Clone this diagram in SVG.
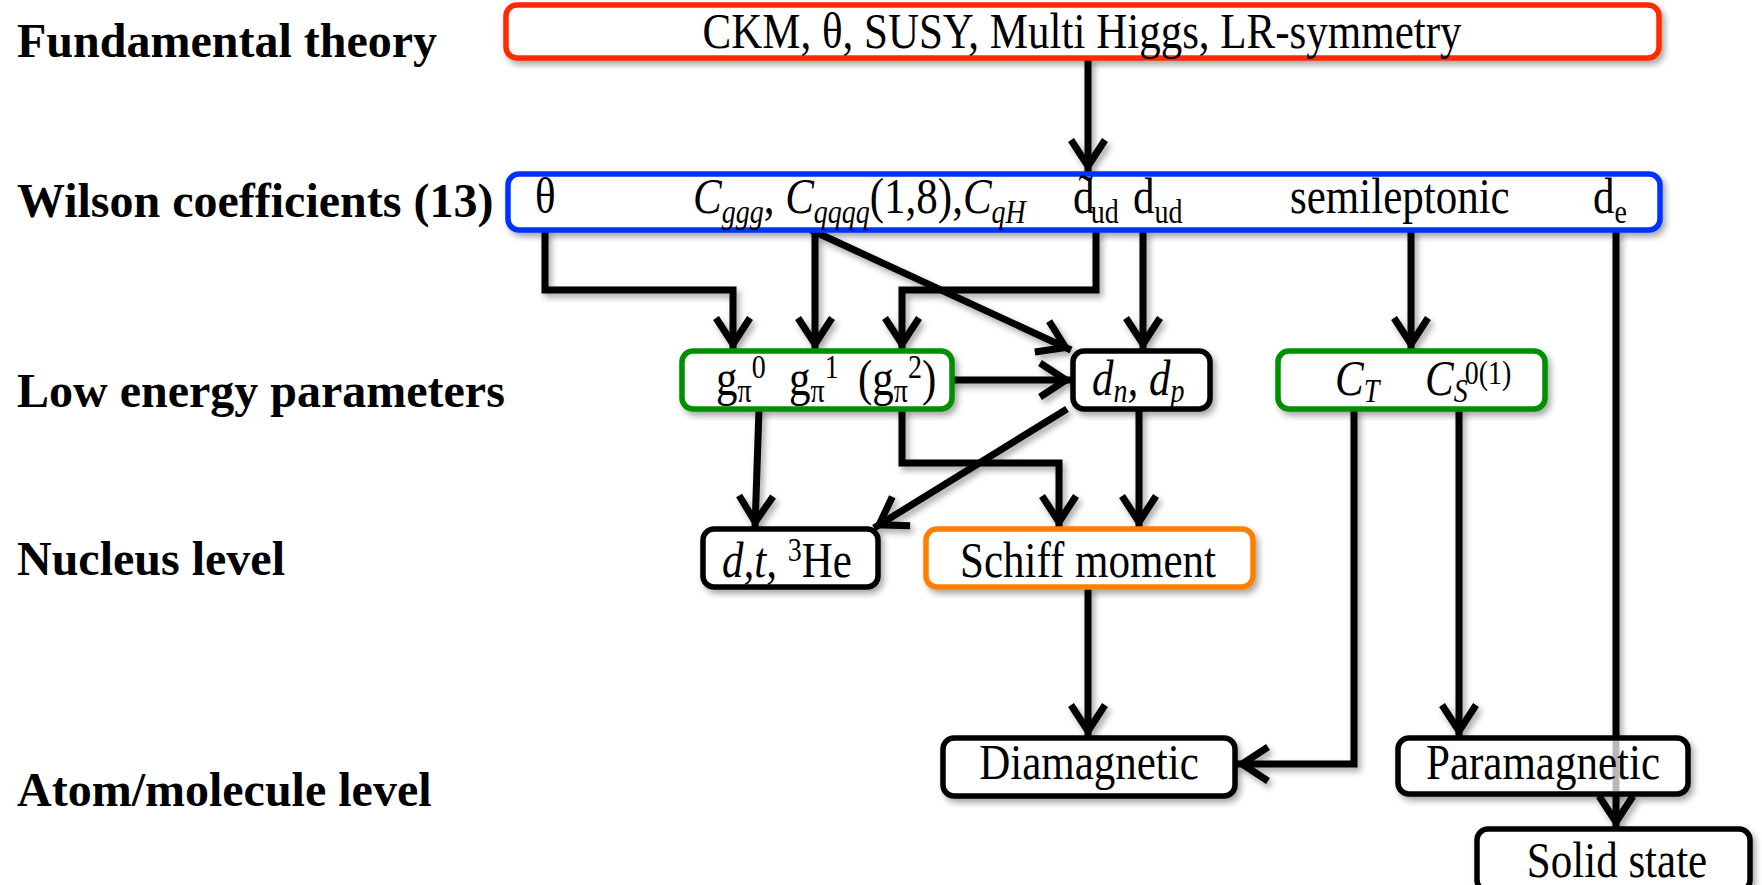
<svg xmlns="http://www.w3.org/2000/svg" width="1762" height="885" viewBox="0 0 1762 885">
<defs>
<filter id="sh" x="-10%" y="-10%" width="120%" height="130%">
<feDropShadow dx="3" dy="4" stdDeviation="3" flood-color="#000" flood-opacity="0.35"/>
</filter>
<marker id="arr" markerUnits="userSpaceOnUse" viewBox="0 0 44 40" markerWidth="44" markerHeight="40" refX="38" refY="20" orient="auto" overflow="visible">
<path d="M6,3 L32,20 L6,37" fill="none" stroke="#000" stroke-width="7" stroke-linejoin="miter"/>
</marker>
</defs>
<style>
.lbl{font-family:"Liberation Serif","Times New Roman",serif;font-weight:bold;font-size:48px;fill:#000}
.t{font-family:"Liberation Serif","Times New Roman",serif;font-size:43px;fill:#000}
.i{font-style:italic}
.s{font-size:28px}
.box{fill:#fff;stroke-width:5.5}
.k{stroke:#000}
.con path{fill:none;stroke:#000;stroke-width:7;marker-end:url(#arr)}
</style>
<rect width="1762" height="885" fill="#fff"/>

<g id="labels">
<text class="lbl" x="17" y="57">Fundamental theory</text>
<text class="lbl" x="17" y="217">Wilson coefficients (13)</text>
<text class="lbl" x="17" y="407">Low energy parameters</text>
<text class="lbl" x="17" y="575">Nucleus level</text>
<text class="lbl" x="17" y="806">Atom/molecule level</text>
</g>

<g class="con" filter="url(#sh)">
<path d="M1088,58 V172"/>
<path d="M545,230 V290 H733 V350"/>
<path d="M815,230 V350"/>
<path d="M811,230 L1071,350"/>
<path d="M1096,230 V290 H902 V350"/>
<path d="M1143,230 V350"/>
<path d="M1411,230 V350"/>
<path d="M1616,230 V828"/>
<path d="M952,380 H1072"/>
<path d="M759,409 L755,528"/>
<path d="M902,409 V463 H1059 V528"/>
<path d="M1067,409 L874,528"/>
<path d="M1139,409 V528"/>
<path d="M1088,587 V737"/>
<path d="M1354,409 V764 H1236"/>
<path d="M1459,409 V737"/>
</g>

<g id="fundamental">
<rect class="box" x="506" y="5" width="1153" height="53" rx="11" stroke="#ff2a00" filter="url(#sh)"/>
<text class="t" transform="translate(1082,48) scale(1,1.2)" text-anchor="middle">CKM, θ, SUSY, Multi Higgs, LR-symmetry</text>
</g>

<g id="wilson">
<rect class="box" x="508" y="174" width="1152" height="56" rx="11" stroke="#0433ff" filter="url(#sh)"/>
<text class="t" transform="translate(535,213) scale(1,1.2)">θ</text>
<text class="t" transform="translate(693,213) scale(1,1.2)"><tspan class="i">C</tspan><tspan class="s i" dy="8">ggg</tspan><tspan dy="-8">, </tspan><tspan class="i">C</tspan><tspan class="s i" dy="8">qqqq</tspan><tspan dy="-8">(1,8),</tspan><tspan class="i">C</tspan><tspan class="s i" dy="8">qH</tspan></text>
<text class="t" transform="translate(1073,213) scale(1,1.2)">d<tspan dx="-16" dy="-3">˜</tspan><tspan class="s" dx="-2" dy="11">ud</tspan></text>
<text class="t" transform="translate(1133,213) scale(1,1.2)">d<tspan class="s" dy="8">ud</tspan></text>
<text class="t" transform="translate(1290,213) scale(1,1.2)">semileptonic</text>
<text class="t" transform="translate(1593,213) scale(1,1.2)">d<tspan class="s" dy="8">e</tspan></text>
</g>

<g id="gpi">
<rect class="box" x="682" y="351" width="270" height="58" rx="11" stroke="#008f00" filter="url(#sh)"/>
<text class="t" transform="translate(716,395) scale(1,1.2)">g<tspan class="s" dy="6">π</tspan><tspan class="s" dy="-20">0</tspan></text>
<text class="t" transform="translate(789,395) scale(1,1.2)">g<tspan class="s" dy="6">π</tspan><tspan class="s" dy="-20">1</tspan></text>
<text class="t" transform="translate(858,395) scale(1,1.2)">(g<tspan class="s" dy="6">π</tspan><tspan class="s" dy="-20">2</tspan><tspan dy="14">)</tspan></text>
</g>

<g id="dndp">
<rect class="box k" x="1073" y="351" width="137" height="58" rx="11" filter="url(#sh)"/>
<text class="t i" transform="translate(1092,395) scale(1,1.2)">d<tspan class="s" dy="6">n</tspan><tspan dy="-6">, d</tspan><tspan class="s" dy="6">p</tspan></text>
</g>

<g id="cts">
<rect class="box" x="1278" y="351" width="267" height="58" rx="11" stroke="#008f00" filter="url(#sh)"/>
<text class="t i" transform="translate(1335,395) scale(1,1.2)">C<tspan class="s" dy="6">T</tspan></text>
<text class="t i" transform="translate(1425,395) scale(1,1.2)">C<tspan class="s" dy="6">S</tspan><tspan class="s" font-style="normal" dx="-3" dy="-15">0(1)</tspan></text>
</g>

<g id="dthe">
<rect class="box k" x="703" y="529" width="175" height="58" rx="11" filter="url(#sh)"/>
<text class="t" transform="translate(722,577) scale(1,1.2)"><tspan class="i">d,t,</tspan> <tspan class="s" dy="-13">3</tspan><tspan dy="13">He</tspan></text>
</g>

<g id="schiff">
<rect class="box" x="926" y="529" width="327" height="58" rx="11" stroke="#ff8000" filter="url(#sh)"/>
<text class="t" transform="translate(1088,577) scale(1,1.2)" text-anchor="middle">Schiff moment</text>
</g>

<g id="diamagnetic">
<rect class="box k" x="943" y="738" width="292" height="58" rx="11" filter="url(#sh)"/>
<text class="t" transform="translate(1089,779) scale(1,1.2)" text-anchor="middle">Diamagnetic</text>
</g>

<g id="paramagnetic">
<rect class="box k" x="1398" y="738" width="290" height="56" rx="11" filter="url(#sh)"/>
<path d="M1616,741 V791" stroke="#000" stroke-opacity="0.28" stroke-width="7"/>
<text class="t" transform="translate(1543,779) scale(1,1.2)" text-anchor="middle">Paramagnetic</text>
</g>

<g id="solid">
<rect class="box k" x="1477" y="829" width="273" height="62" rx="11" filter="url(#sh)"/>
<text class="t" transform="translate(1617,877) scale(1,1.2)" text-anchor="middle">Solid state</text>
</g>
</svg>
